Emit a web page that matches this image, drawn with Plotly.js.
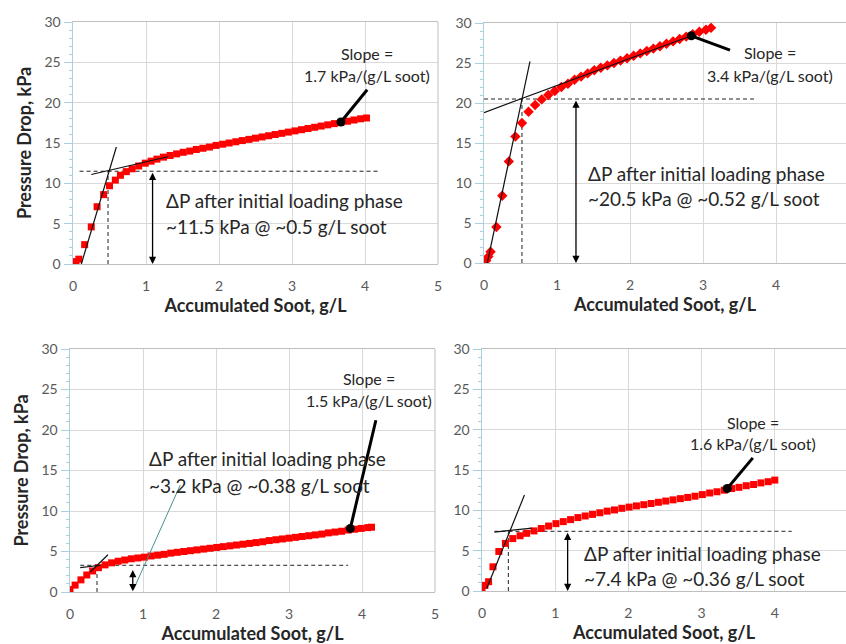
<!DOCTYPE html>
<html>
<head>
<meta charset="utf-8">
<script src="https://cdn.plot.ly/plotly-3.0.1.min.js"></script>
<style>html,body{margin:0;padding:0;background:#fff;}#chart{width:846px;height:644px;}</style>
</head>
<body>
<div id="chart"></div>
<script>
// ---------- Data ----------
// Panel 1 (top-left)
const soot1 = [0.00,0.04,0.08,0.16,0.25,0.33,0.42,0.50,0.58,0.65,0.73,0.81,0.90,0.99,1.07,1.15,1.24,1.33,1.42,1.51,1.60,1.69,1.78,1.87,1.96,2.05,2.14,2.23,2.32,2.41,2.50,2.59,2.68,2.77,2.86,2.95,3.04,3.13,3.22,3.31,3.40,3.49,3.58,3.67,3.76,3.85,3.94,4.02];
const dp1   = [0.1,0.3,0.6,2.4,4.6,7.1,8.6,9.7,10.4,11.0,11.45,11.8,12.15,12.5,12.75,13.0,13.25,13.45,13.65,13.85,14.0,14.2,14.35,14.5,14.7,14.85,15.0,15.15,15.3,15.45,15.6,15.75,15.9,16.05,16.2,16.35,16.5,16.65,16.8,16.95,17.1,17.25,17.4,17.55,17.7,17.85,18.0,18.1];
// Panel 2 (top-right)
const soot2 = [0.00,0.03,0.06,0.09,0.17,0.25,0.34,0.43,0.52,0.61,0.70,0.79,0.88,0.97,1.06,1.15,1.24,1.33,1.42,1.51,1.60,1.69,1.78,1.87,1.96,2.05,2.14,2.23,2.32,2.41,2.50,2.59,2.68,2.77,2.86,2.95,3.04,3.11];
const dp2   = [0.1,0.3,0.8,1.4,4.5,8.4,12.7,15.8,17.5,18.9,19.75,20.45,21.0,21.5,22.0,22.4,22.9,23.3,23.7,24.1,24.4,24.7,25.0,25.3,25.6,25.9,26.2,26.5,26.8,27.1,27.4,27.7,28.0,28.3,28.6,28.9,29.15,29.4];
// Panel 3 (bottom-left)
const soot3 = [0.00,0.07,0.15,0.23,0.31,0.39,0.48,0.57,0.66,0.75,0.84,0.93,1.02,1.11,1.20,1.29,1.38,1.47,1.56,1.65,1.74,1.83,1.92,2.01,2.10,2.19,2.28,2.37,2.46,2.55,2.64,2.73,2.82,2.91,3.00,3.09,3.18,3.27,3.36,3.45,3.54,3.63,3.72,3.81,3.90,3.99,4.08,4.13];
const dp3   = [0.3,0.85,1.5,2.1,2.6,3.0,3.35,3.6,3.8,3.95,4.1,4.2,4.3,4.45,4.55,4.65,4.8,4.9,5.0,5.1,5.2,5.3,5.4,5.5,5.6,5.7,5.8,5.9,6.0,6.1,6.2,6.35,6.45,6.55,6.65,6.75,6.85,6.95,7.05,7.15,7.3,7.4,7.5,7.65,7.75,7.85,7.95,8.0];
// Panel 4 (bottom-right)
const soot4 = [0.00,0.04,0.09,0.15,0.23,0.32,0.42,0.52,0.61,0.71,0.81,0.91,1.01,1.11,1.21,1.31,1.41,1.51,1.61,1.71,1.81,1.91,2.01,2.11,2.21,2.31,2.41,2.51,2.61,2.71,2.81,2.91,3.01,3.11,3.21,3.31,3.41,3.51,3.61,3.71,3.81,3.91,4.00];
const dp4   = [0.3,0.7,1.15,3.0,4.9,5.9,6.5,6.85,7.15,7.45,7.75,8.05,8.35,8.6,8.85,9.1,9.3,9.5,9.7,9.9,10.05,10.25,10.4,10.55,10.7,10.85,11.0,11.15,11.3,11.45,11.6,11.75,11.95,12.15,12.3,12.5,12.7,12.85,13.05,13.2,13.4,13.55,13.75];

// Tangent (fit) lines: [x0,x1], [y0,y1]
const steepX = [[0.114,0.594],[0.045,0.63],[0.28,0.52],[0.064,0.58]];
const steepY = [[0,14.5],[0,25.2],[2.5,4.6],[0.3,11.9]];
const flatX  = [[0.25,1.3],[0.0,2.84],[0.14,0.42],[0.17,0.68]];
const flatY  = [[11.1,13.3],[18.8,28.4],[3.0,3.3],[7.3,7.8]];

// Initial-loading knee values (ΔP, soot) and dashed guide extents
const kneeDP   = [11.5, 20.5, 3.3, 7.4];
const kneeSoot = [0.48, 0.52, 0.37, 0.36];
const guideStart = [0.09, 0.0, 0.14, 0.17];
const guideEnd   = [4.2, 3.73, 3.81, 4.23];
const arrowX     = [1.09, 1.26, 0.86, 1.17];
const arrowTop   = [11.5, 20.5, 2.9, 7.4];
const arrowBot   = [0, 0, 0.1, 0];

// Slope marker points
const slopeX = [3.67, 2.84, 3.84, 3.35];
const slopeY = [17.6, 28.4, 7.85, 12.7];
const slopeLeaderX = [4.03, 3.37, 4.19, 3.70];
const slopeLeaderY = [21.6, 26.6, 21.2, 16.5];

// Texts
const slopeText = ["1.7 kPa/(g/L soot)","3.4 kPa/(g/L soot)","1.5 kPa/(g/L soot)","1.6 kPa/(g/L soot)"];
const slopeTextX = [4.03, 3.92, 4.10, 3.70];
const slopeTextY1 = [26.1, 26.25, 26.4, 20.9];
const slopeTextY2 = [23.4, 23.4, 23.7, 18.3];
const dpLine2 = ["~11.5 kPa @ ~0.5 g/L soot","~20.5 kPa @ ~0.52 g/L soot","~3.2 kPa @ ~0.38 g/L soot","~7.4 kPa @ ~0.36 g/L soot"];
const dpTextX = [1.24, 1.40, 1.06, 1.36];
const dpTextY1 = [7.93, 11.25, 16.5, 4.7];
const dpTextY2 = [4.7, 8.1, 13.2, 1.6];
const leader3X = [0.87, 1.51];
const leader3Y = [0.3, 13.2];

const xTicks = [0,1,2,3,4,5];
const yTicks = [0,5,10,15,20,25,30];

// ---------- Build ----------
const soots = [soot1,soot2,soot3,soot4];
const dps = [dp1,dp2,dp3,dp4];
const symbols = ['square','diamond','square','square'];
const FONT = 'Lato, "Open Sans", sans-serif';
const traces = [];
const annotations = [];
const shapes = [];

for (let i = 0; i < 4; i++) {
  const xa = i === 0 ? 'x' : 'x' + (i+1);
  const ya = i === 0 ? 'y' : 'y' + (i+1);
  // dashed guides
  traces.push({x:[guideStart[i], guideEnd[i]], y:[kneeDP[i], kneeDP[i]], xaxis:xa, yaxis:ya, mode:'lines',
    line:{color:'#222', width:1, dash:'4px,3px'}, hoverinfo:'skip', showlegend:false});
  traces.push({x:[kneeSoot[i], kneeSoot[i]], y:[0, kneeDP[i]], xaxis:xa, yaxis:ya, mode:'lines',
    line:{color:'#222', width:1, dash:'4px,3px'}, hoverinfo:'skip', showlegend:false});
  // data
  traces.push({x:soots[i], y:dps[i], xaxis:xa, yaxis:ya, mode:'markers',
    marker:{symbol:symbols[i], color:'#ff0000', size: i===1 ? 8 : 7, line:{width:0}}, showlegend:false});
  // tangent lines
  traces.push({x:steepX[i], y:steepY[i], xaxis:xa, yaxis:ya, mode:'lines', line:{color:'#111', width:1.2}, showlegend:false});
  traces.push({x:flatX[i], y:flatY[i], xaxis:xa, yaxis:ya, mode:'lines', line:{color:'#111', width:1.2}, showlegend:false});
  // slope leader line and dot
  traces.push({x:[slopeLeaderX[i], slopeX[i]], y:[slopeLeaderY[i], slopeY[i]], xaxis:xa, yaxis:ya, mode:'lines',
    line:{color:'#000', width:3}, showlegend:false});
  traces.push({x:[slopeX[i]], y:[slopeY[i]], xaxis:xa, yaxis:ya, mode:'markers',
    marker:{symbol:'circle', color:'#000', size:9}, showlegend:false});
  if (i === 2) {
    traces.push({x:leader3X, y:leader3Y, xaxis:xa, yaxis:ya, mode:'lines', line:{color:'#4a9090', width:1}, showlegend:false});
  }
  // double arrow
  annotations.push({xref:xa, yref:ya, axref:xa, ayref:ya, x:arrowX[i], y:arrowBot[i], ax:arrowX[i], ay:arrowTop[i],
    text:'', showarrow:true, arrowside:'end+start', arrowhead:2, arrowsize:1.1, arrowwidth:1.3, arrowcolor:'#000', standoff:0, startstandoff:0});
  // texts
  const tf = {family:FONT, size:16, color:'#262626'};
  annotations.push({xref:xa, yref:ya, x:slopeTextX[i], y:slopeTextY1[i], text:'Slope =', showarrow:false, font:tf, xanchor:'center', yanchor:'middle'});
  annotations.push({xref:xa, yref:ya, x:slopeTextX[i], y:slopeTextY2[i], text:slopeText[i], showarrow:false, font:tf, xanchor:'center', yanchor:'middle'});
  const bf = {family:FONT, size:19, color:'#262626'};
  annotations.push({xref:xa, yref:ya, x:dpTextX[i], y:dpTextY1[i], text:'ΔP after initial loading phase', showarrow:false, font:bf, xanchor:'left', yanchor:'middle'});
  annotations.push({xref:xa, yref:ya, x:dpTextX[i], y:dpTextY2[i], text:dpLine2[i], showarrow:false, font:bf, xanchor:'left', yanchor:'middle'});
  // right frame line for the left panels
  if (i === 0 || i === 2) {
    shapes.push({type:'line', xref:xa + ' domain', yref:ya + ' domain', x0:1, x1:1, y0:0, y1:1, line:{color:'#bfbfbf', width:1}});
  }
}

function xaxis(domain, anchor, range) {
  return {domain:domain, anchor:anchor, range:range, tickvals:xTicks, ticktext:xTicks.map(String),
    showgrid:true, gridcolor:'#d9d9d9', gridwidth:1, zeroline:false,
    showline:true, linecolor:'#bfbfbf', linewidth:1, mirror:true,
    ticks:'outside', ticklen:9, tickcolor:'rgba(0,0,0,0)',
    tickfont:{family:FONT, size:14, color:'#595959'},
    title:{text:'Accumulated Soot, g/L', font:{family:FONT, size:18, color:'#262626', weight:'bold'}, standoff:3},
    automargin:false, fixedrange:true};
}
function yaxis(domain, anchor, withTitle) {
  const a = {domain:domain, anchor:anchor, range:[0,30], tickvals:yTicks, ticktext:yTicks.map(String),
    showgrid:true, gridcolor:'#d9d9d9', gridwidth:1, zeroline:false,
    showline:true, linecolor:'#a9cfe0', linewidth:1.5, mirror:false,
    ticks:'outside', ticklen:8, tickcolor:'#a9cfe0',
    minor:{dtick:1, ticks:'outside', ticklen:3, tickcolor:'#a9cfe0', showgrid:false},
    tickfont:{family:FONT, size:14, color:'#595959'},
    automargin:false, fixedrange:true};
  if (withTitle) a.title = {text:'Pressure Drop, kPa', font:{family:FONT, size:18, color:'#262626', weight:'bold'}, standoff:8};
  return a;
}

const layout = {
  width:846, height:644,
  margin:{l:0, r:0, t:0, b:0},
  paper_bgcolor:'#ffffff', plot_bgcolor:'#ffffff',
  showlegend:false,
  xaxis:  xaxis([73/846, 438/846], 'y', [0,5]),
  yaxis:  yaxis([1-264/644, 1-22/644], 'x', true),
  xaxis2: xaxis([484/846, 1], 'y2', [0, 362/73]),
  yaxis2: yaxis([1-263/644, 1-23/644], 'x2', false),
  xaxis3: xaxis([70/846, 435/846], 'y3', [0,5]),
  yaxis3: yaxis([1-592/644, 1-349/644], 'x3', true),
  xaxis4: xaxis([482/846, 1], 'y4', [0, 364/73.2]),
  yaxis4: yaxis([1-591/644, 1-349/644], 'x4', false),
  annotations:annotations,
  shapes:shapes
};

Plotly.newPlot('chart', traces, layout, {staticPlot:true, displayModeBar:false});
</script>
</body>
</html>
